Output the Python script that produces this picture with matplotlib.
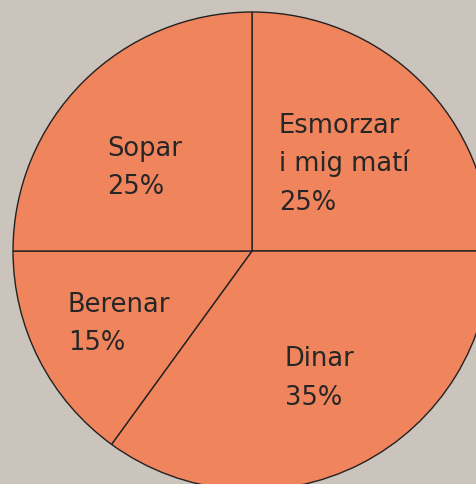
import matplotlib
matplotlib.use("Agg")
import matplotlib.pyplot as plt

# slices, clockwise from the top
meals = ["Esmorzar\ni mig matí", "Dinar", "Berenar", "Sopar"]
shares = [25, 35, 15, 25]

# label anchor (left, first baseline) in pixel coords of the image
label_pos = [(279, 132.7), (285, 366.5), (68, 311.7), (107, 156)]
line_step = 38.5

W, H = 477, 485
bg = "#cac4bd"
wedge_color = "#f0845d"

fig = plt.figure(figsize=(W / 100, H / 100), dpi=100, facecolor=bg)
ax = fig.add_axes([0, 0, 1, 1])
ax.set_facecolor(bg)

ax.pie(shares, colors=[wedge_color] * len(shares), startangle=90,
       counterclock=False, center=(252, H - 252), radius=239,
       wedgeprops=dict(edgecolor="#222222", linewidth=1.0), frame=True)

ax.set_xlim(0, W)
ax.set_ylim(0, H)
ax.set_aspect("equal")
ax.axis("off")

for name, val, (x, y) in zip(meals, shares, label_pos):
    lines = name.split("\n") + ["%d%%" % val]
    for i, line in enumerate(lines):
        ax.text(x, H - (y + i * line_step), line, ha="left", va="baseline",
                fontsize=18.5, color="#262626", family="DejaVu Sans")

fig.savefig("out.png", dpi=100, facecolor=bg)
